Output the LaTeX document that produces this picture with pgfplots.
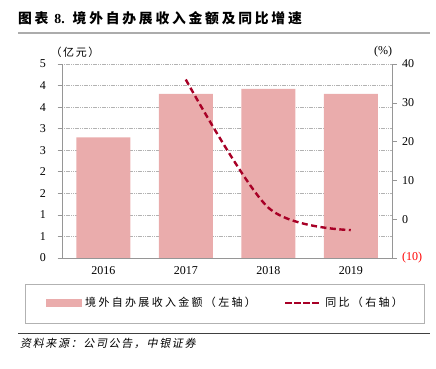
\documentclass[border=0pt]{standalone}
\usepackage{pgfplots}
\pgfplotsset{compat=1.18}
\usepackage{fontspec}
\setmainfont{Liberation Serif}
\newfontfamily\cjk[LetterSpace=15]{Noto Sans CJK SC}
\newfontfamily\cjkl[LetterSpace=21]{Noto Sans CJK SC}
\newfontfamily\cjkt[LetterSpace=20]{Noto Sans CJK SC}
\newfontfamily\cjksl[FakeSlant=0.2,LetterSpace=15]{Noto Sans CJK SC}
\definecolor{barpink}{RGB}{234,172,172}
\definecolor{linered}{RGB}{168,0,38}
\definecolor{axgray}{RGB}{150,150,150}
\begin{document}
\begin{tikzpicture}
\path (0pt,0pt) rectangle (436pt,369pt);
\node[anchor=west, inner sep=0pt] at (18pt,351pt) {\fontsize{13.8}{16}\selectfont\cjkt\bfseries 图表 {\rmfamily\bfseries 8.} 境外自办展收入金额及同比增速};
\draw[gray!65, line width=2pt] (18pt,336pt) -- (430pt,336pt);
\node[inner sep=0pt] at (75pt,317pt) {\fontsize{11}{13}\selectfont\cjk （亿元）};
\node[inner sep=0pt] at (383pt,317pt) {\fontsize{12}{14}\selectfont (\%)};

\begin{axis}[
  at={(62pt,111pt)}, anchor=south west,
  scale only axis, width=330pt, height=194pt,
  xmin=-0.5, xmax=3.5, ymin=0, ymax=5,
  axis y line*=left, axis x line*=bottom,
  axis line style={axgray, line width=0.6pt},
  xtick={0,1,2,3}, xticklabels={2016,2017,2018,2019},
  xtick style={draw=none},
  extra x ticks={-0.5,0.5,1.5,2.5,3.5}, extra x tick labels={},
  extra x tick style={tick style={axgray, line width=0.6pt}, grid=none},
  ytick={0,0.5556,1.1111,1.6667,2.2222,2.7778,3.3333,3.8889,4.4444,5},
  yticklabels={0,1,1,2,2,3,3,4,4,5},
  ymajorgrids,
  grid style={gray!60, line width=0.6pt, dash pattern=on 1.2pt off 0.6pt},
  tick align=outside, major tick length=4.5pt,
  ytick style={axgray, line width=0.6pt},
  ticklabel style={font=\fontsize{12}{14}\selectfont},
  yticklabel style={xshift=-8pt},
  /pgf/number format/assume math mode=true,
  ybar, bar width=54pt,
]
\addplot[fill=barpink, draw=none] coordinates {(0,3.11) (1,4.23) (2,4.36) (3,4.23)};
\end{axis}

\begin{axis}[
  at={(62pt,111pt)}, anchor=south west,
  scale only axis, width=330pt, height=194pt,
  xmin=-0.5, xmax=3.5, ymin=-10, ymax=40,
  axis y line*=right, axis x line=none,
  axis line style={axgray, line width=0.6pt},
  ytick={-10,0,10,20,30,40},
  yticklabels={\textcolor{red}{(10)},0,10,20,30,40},
  tick align=outside, major tick length=4.5pt,
  ytick style={axgray, line width=0.6pt},
  ticklabel style={font=\fontsize{12}{14}\selectfont},
  yticklabel style={xshift=2pt},
  /pgf/number format/assume math mode=true,
  legend columns=2,
  legend style={at={(0.498,-0.232)}, anchor=center, draw=none, fill=none,
    font=\fontsize{11}{13}\selectfont\cjkl,
    nodes={inner xsep=4pt},
    /tikz/every even column/.append style={column sep=24pt}},
]
\addlegendimage{legend image code/.code={\fill[barpink] (0pt,-3.5pt) rectangle (35pt,3.5pt);}}
\addlegendentry{境外自办展收入金额（左轴）}
\addplot[linered, line width=2.4pt, dash pattern=on 6pt off 3.5pt, smooth,
  legend image code/.code={\draw[linered, line width=2.4pt, dash pattern=on 7pt off 2pt] (0pt,0pt) -- (35pt,0pt);}]
  coordinates {(1,36) (2,3) (3,-2.8)};
\addlegendentry{同比（右轴）}
\end{axis}

\draw[gray!60, line width=0.8pt] (25pt,46pt) rectangle (424pt,85pt);
\draw[black!75, line width=0.9pt] (18pt,36pt) -- (430pt,36pt);
\node[anchor=west, inner sep=0pt] at (20pt,26pt) {\fontsize{11}{13}\selectfont\cjksl 资料来源：公司公告，中银证券};
\end{tikzpicture}
\end{document}
